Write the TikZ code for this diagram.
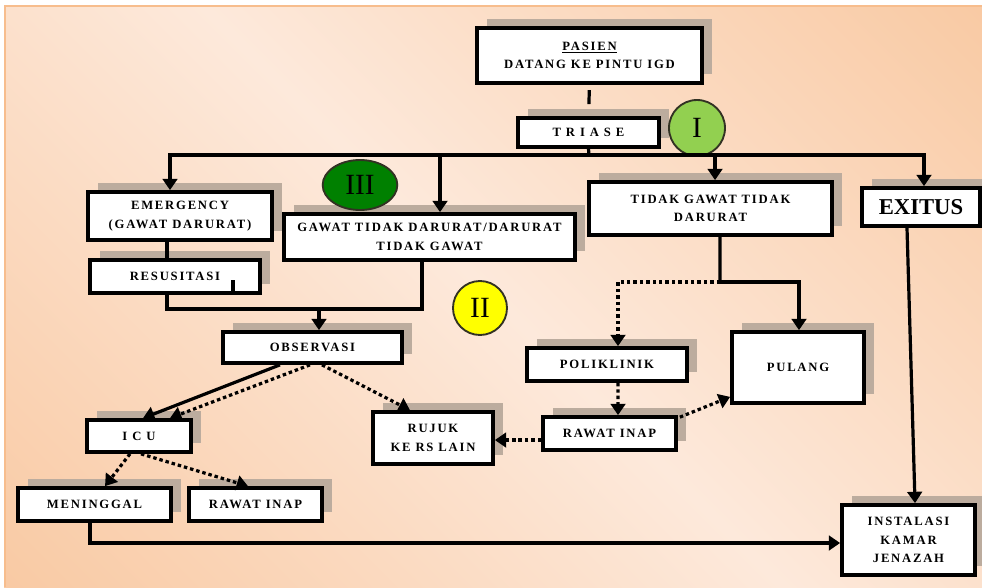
\documentclass[tikz,border=0pt]{standalone}
\usepackage{fontspec}
\setmainfont{Liberation Serif}
\newfontfamily\boxfont{Liberation Serif}[LetterSpace=14]
\usetikzlibrary{arrows.meta,shadows,shapes.geometric}
\definecolor{peachlight}{RGB}{253,233,219}
\definecolor{peachdark}{RGB}{247,189,141}
\definecolor{shadowgray}{RGB}{188,172,158}
\definecolor{greenI}{RGB}{146,208,80}
\definecolor{greenIII}{RGB}{0,128,0}
\definecolor{yellowII}{RGB}{255,255,0}
\definecolor{ringcol}{RGB}{50,50,35}
\pgfdeclarehorizontalshading{peachshade}{100bp}{color(0bp)=(peachdark); color(50bp)=(peachlight); color(100bp)=(peachdark)}
\begin{document}
\begin{tikzpicture}[x=0.75pt,y=-0.75pt,
  box/.style={draw=black, line width=2.8pt, fill=white, inner sep=1pt, align=center,
    font=\boxfont\fontsize{9.5}{14}\selectfont\bfseries,
    general shadow={fill=shadowgray, shadow xshift=7.5pt, shadow yshift=7pt}},
  conn/.style={line width=2.4pt},
  arr/.style={conn, -{Triangle[width=11pt,length=8.5pt]}},
  darr/.style={arr, dash pattern=on 2.6pt off 2.2pt},
  badge/.style={draw=ringcol, line width=1.4pt, inner sep=0pt, font=\fontsize{22}{22}\selectfont}]
\useasboundingbox (0,0) rectangle (982,587);
\fill[white] (0,0) rectangle (982,587);
\shade[shading=peachshade, shading angle=45] (4,5) rectangle (982,587);
\draw[peachdark, line width=1.6pt] (982,6) -- (5,6) -- (5,587);

% boxes
\node[box, minimum width=168.75pt, minimum height=41.25pt] (pasien) at (589.5,55.5) {\underline{PASIEN}\\DATANG KE PINTU IGD};
\node[box, minimum width=105.75pt, minimum height=21.75pt] (triase) at (588.5,132.5) {T R I A S E};
\node[box, minimum width=138pt, minimum height=36pt] (emerg) at (180,216) {EMERGENCY\\(GAWAT DARURAT)};
\node[box, minimum width=127.5pt, minimum height=24.75pt] (resus) at (175,276.5) {RESUSITASI};
\node[box, minimum width=218.25pt, minimum height=34.5pt] (gawat) at (429.5,237) {GAWAT TIDAK DARURAT/DARURAT\\TIDAK GAWAT};
\node[box, minimum width=182.25pt, minimum height=39.75pt] (tidak) at (710.5,208.5) {TIDAK GAWAT TIDAK\\DARURAT};
\node[box, minimum width=88.5pt, minimum height=28.5pt, font=\fontsize{17}{17}\selectfont\bfseries] (exitus) at (921,207) {EXITUS};
\node[box, minimum width=134.25pt, minimum height=23.25pt] (obs) at (312.5,347.5) {OBSERVASI};
\node[box, minimum width=78pt, minimum height=24pt] (icu) at (139,436) {I C U};
\node[box, minimum width=90pt, minimum height=39pt] (rujuk) at (433,438) {RUJUK\\KE RS LAIN};
\node[box, minimum width=120pt, minimum height=24.75pt] (polik) at (607,364.5) {POLIKLINIK};
\node[box, minimum width=99.75pt, minimum height=24.75pt] (rawat1) at (609.5,433.5) {RAWAT INAP};
\node[box, minimum width=99pt, minimum height=53.25pt] (pulang) at (798,367.5) {PULANG};
\node[box, minimum width=114.75pt, minimum height=24.75pt] (mening) at (94.5,504.5) {MENINGGAL};
\node[box, minimum width=99.75pt, minimum height=24.75pt] (rawat2) at (255.5,504.5) {RAWAT INAP};
\node[box, minimum width=99.75pt, minimum height=52.5pt] (instal) at (908.5,540) {INSTALASI\\KAMAR\\JENAZAH};

% badges
\node[badge, circle, fill=greenI, minimum size=42pt] (b1) at (697,128) {I};
\node[badge, circle, fill=yellowII, minimum size=40.5pt] (b2) at (480,308) {II};
\node[badge, ellipse, fill=greenIII, minimum width=56pt, minimum height=37.5pt] (b3) at (360,185) {III};

% connectors
\coordinate (bus) at (589,155);
\coordinate (j1) at (319,309);
\coordinate (j2) at (720,282);
\draw[conn, shorten <=4pt, shorten >=9pt] (pasien.south) -- (triase.north);
\draw[conn] (triase.south) -- (bus);
\draw[arr] (bus) -| ([xshift=-7.5pt]emerg.north);
\draw[arr] (bus) -| ([xshift=7.9pt]gawat.north);
\draw[arr] (bus) -| ([xshift=3.4pt]tidak.north);
\draw[arr] (bus) -| ([xshift=2.25pt]exitus.north);
\draw[conn] ([xshift=-9.75pt]emerg.south) -- ([xshift=-6pt]resus.north);
\draw[conn] ([xshift=-6pt]resus.south) |- (j1) -| ([xshift=-5.6pt]gawat.south);
\draw[conn] ([xshift=43.5pt]resus.south) -- ++(0,-15);
\draw[arr] (j1) -- (j1 |- obs.north);
\draw[conn] ([xshift=7.1pt]tidak.south) -- (j2);
\draw[arr] (j2) -| ([xshift=0.75pt]pulang.north);
\draw[darr] (j2) -| ([xshift=8.25pt]polik.north);
\draw[darr] ([xshift=8.25pt]polik.south) -- ([xshift=6.4pt]rawat1.north);
\draw[darr] ([xshift=1.5pt,yshift=-1.5pt]rawat1.north east) -- ([yshift=6pt]pulang.south west);
\draw[darr] ([yshift=-4.9pt]rawat1.west) -- ([yshift=-4.9pt]rawat1.west -| rujuk.east);
\draw[arr] ([xshift=-24.4pt]obs.south) -- ([xshift=3pt]icu.north);
\draw[darr] ([xshift=-1.9pt]obs.south) -- ([xshift=23.25pt]icu.north);
\draw[darr] ([xshift=7.1pt]obs.south) -- ([xshift=-17.25pt]rujuk.north);
\draw[darr] ([xshift=-6.75pt]icu.south) -- ([xshift=7.9pt]mening.north);
\draw[darr] ([xshift=1.5pt]icu.south) -- ([xshift=-5.6pt]rawat2.north);
\draw[arr] ([xshift=-3.4pt]mening.south) |- ([yshift=-2.25pt]instal.west);
\draw[arr] ([xshift=-10.5pt]exitus.south) -- ([xshift=4.9pt]instal.north);
\end{tikzpicture}
\end{document}
